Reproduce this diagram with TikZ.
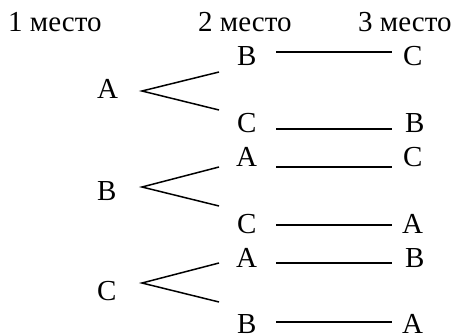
\documentclass[tikz,border=0pt]{standalone}
\usepackage{fontspec}
\setmainfont{Liberation Serif}
\begin{document}
\begin{tikzpicture}[x=1pt,y=-1pt,
  lbl/.style={anchor=base west,inner sep=0pt,font=\fontsize{29}{34}\selectfont},
  conn/.style={line width=1.5pt}]
\useasboundingbox (0,0) rectangle (453,335);
% headers
\node[lbl] (h1) at (8,31) {1 место};
\node[lbl] (h2) at (198,31) {2 место};
\node[lbl] (h3) at (358,31) {3 место};
% first place
\node[lbl] (l1) at (97,98) {A};
\node[lbl] (l2) at (97,200) {B};
\node[lbl] (l3) at (97,300) {C};
% second place
\node[lbl] (m1) at (237,65) {B};
\node[lbl] (m2) at (237,132) {C};
\node[lbl] (m3) at (236,166) {A};
\node[lbl] (m4) at (237,233) {C};
\node[lbl] (m5) at (236,267) {A};
\node[lbl] (m6) at (237,333) {B};
% third place
\node[lbl] (r1) at (403,65) {C};
\node[lbl] (r2) at (405,132) {B};
\node[lbl] (r3) at (403,166) {C};
\node[lbl] (r4) at (402,233) {A};
\node[lbl] (r5) at (405,267) {B};
\node[lbl] (r6) at (402,333) {A};
% forks
\coordinate (v1) at (142,91);  \coordinate (u1) at (219,72);  \coordinate (d1) at (219,110);
\coordinate (v2) at (142,187); \coordinate (u2) at (219,167); \coordinate (d2) at (219,206);
\coordinate (v3) at (142,283); \coordinate (u3) at (219,263); \coordinate (d3) at (219,302);
\draw[conn] (u1) -- (v1) -- (d1);
\draw[conn] (u2) -- (v2) -- (d2);
\draw[conn] (u3) -- (v3) -- (d3);
% lines between 2nd and 3rd place
\foreach \i/\y in {1/52,2/129,3/167,4/225,5/263,6/322}{
  \coordinate (a\i) at (276,\y);
  \coordinate (b\i) at (392,\y);
  \draw[conn] (a\i) -- (b\i);
}
\end{tikzpicture}
\end{document}
